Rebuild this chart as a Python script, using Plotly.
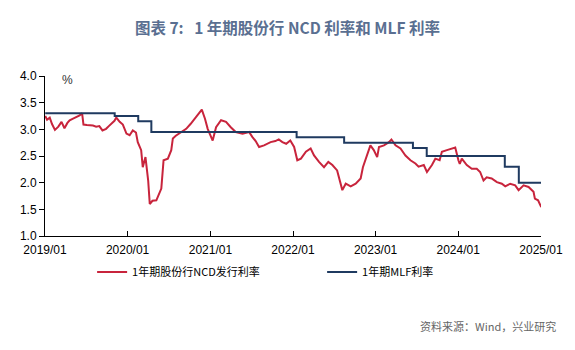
import plotly.graph_objects as go

ncd_dates = [
    "2019-01-02", "2019-01-10", "2019-01-22", "2019-02-01", "2019-02-14", "2019-03-01",
    "2019-03-15", "2019-03-28", "2019-04-10", "2019-04-20", "2019-05-05", "2019-05-20",
    "2019-06-03", "2019-06-14", "2019-06-20", "2019-07-05", "2019-07-16", "2019-08-01",
    "2019-08-15", "2019-08-29", "2019-09-12", "2019-09-28", "2019-10-10", "2019-10-21",
    "2019-11-04", "2019-11-12", "2019-11-27", "2019-12-11", "2019-12-27", "2020-01-10",
    "2020-01-24", "2020-02-07", "2020-02-15", "2020-03-01", "2020-03-08", "2020-03-20",
    "2020-04-01", "2020-04-08", "2020-04-20", "2020-05-07", "2020-05-29", "2020-06-08",
    "2020-06-27", "2020-07-12", "2020-07-19", "2020-08-01", "2020-08-17", "2020-09-01",
    "2020-09-16", "2020-10-05", "2020-10-23", "2020-11-05", "2020-11-14", "2020-11-24",
    "2020-12-08", "2020-12-20", "2021-01-11", "2021-01-26", "2021-02-17", "2021-03-11",
    "2021-04-01", "2021-04-23", "2021-05-23", "2021-06-21", "2021-07-05", "2021-07-20",
    "2021-08-04", "2021-08-26", "2021-09-24", "2021-10-15", "2021-10-30", "2021-11-15",
    "2021-12-02", "2021-12-20", "2022-01-06", "2022-01-20", "2022-02-05", "2022-02-27",
    "2022-03-20", "2022-04-04", "2022-04-26", "2022-05-18", "2022-06-06", "2022-06-24",
    "2022-07-15", "2022-07-26", "2022-08-07", "2022-08-22", "2022-09-13", "2022-10-05",
    "2022-10-27", "2022-11-06", "2022-11-20", "2022-12-09", "2022-12-24", "2023-01-08",
    "2023-01-16", "2023-02-07", "2023-03-01", "2023-03-12", "2023-03-30", "2023-04-21",
    "2023-05-13", "2023-06-04", "2023-06-26", "2023-07-10", "2023-08-02", "2023-08-16",
    "2023-09-07", "2023-09-22", "2023-10-11", "2023-10-21", "2023-11-12", "2023-12-04",
    "2023-12-19", "2024-01-02", "2024-01-08", "2024-01-17", "2024-02-08", "2024-03-01",
    "2024-03-23", "2024-04-07", "2024-04-22", "2024-05-06", "2024-05-28", "2024-06-20",
    "2024-07-12", "2024-07-27", "2024-08-18", "2024-09-09", "2024-09-24", "2024-10-16",
    "2024-11-07", "2024-11-29", "2024-12-05", "2024-12-19", "2025-01-02",
]
ncd_values = [
    3.25, 3.18, 3.22, 3.10, 2.99, 3.05,
    3.14, 3.02, 3.12, 3.17, 3.20, 3.23,
    3.26, 3.30, 3.09, 3.08, 3.08, 3.07,
    3.05, 3.06, 2.98, 3.01, 3.06, 3.10,
    3.16, 3.22, 3.14, 3.09, 2.92, 2.89,
    2.98, 2.94, 2.76, 2.61, 2.29, 2.48,
    2.04, 1.60, 1.66, 1.67, 1.89, 2.42,
    2.45, 2.61, 2.83, 2.88, 2.92, 2.97,
    3.01, 3.10, 3.20, 3.25, 3.30, 3.37,
    3.20, 3.01, 2.79, 3.04, 3.17, 3.14,
    3.04, 2.95, 2.92, 2.95, 2.86, 2.78,
    2.67, 2.70, 2.76, 2.78, 2.81, 2.76,
    2.73, 2.79, 2.67, 2.42, 2.45, 2.58,
    2.64, 2.51, 2.39, 2.29, 2.39, 2.33,
    2.23, 2.04, 1.86, 1.98, 1.93, 1.98,
    2.08, 2.29, 2.45, 2.70, 2.61, 2.48,
    2.67, 2.70, 2.76, 2.81, 2.70, 2.64,
    2.51, 2.42, 2.36, 2.30, 2.33, 2.20,
    2.33, 2.45, 2.42, 2.58, 2.61, 2.64,
    2.66, 2.42, 2.35, 2.45, 2.33, 2.26,
    2.26, 2.20, 2.04, 2.10, 2.08, 2.01,
    1.98, 1.93, 1.98, 1.95, 1.86, 1.95,
    1.92, 1.83, 1.70, 1.67, 1.54,
]

mlf_dates = [
    "2019-01-02", "2019-11-05", "2020-02-17", "2020-04-15", "2022-01-17",
    "2022-08-15", "2023-06-15", "2023-08-15", "2024-07-25", "2024-09-25", "2025-01-02",
]
mlf_values = [3.30, 3.25, 3.15, 2.95, 2.85, 2.75, 2.65, 2.50, 2.30, 2.00, 2.00]

y_ticks = [1.0, 1.5, 2.0, 2.5, 3.0, 3.5, 4.0]
x_ticks = ["2019-01-01", "2020-01-01", "2021-01-01", "2022-01-01",
           "2023-01-01", "2024-01-01", "2025-01-01"]
x_tick_labels = ["2019/01", "2020/01", "2021/01", "2022/01", "2023/01", "2024/01", "2025/01"]

fig = go.Figure()
fig.add_trace(go.Scatter(
    x=ncd_dates, y=ncd_values, mode="lines", name="1年期股份行NCD发行利率",
    line=dict(color="#C8243C", width=2),
))
fig.add_trace(go.Scatter(
    x=mlf_dates, y=mlf_values, mode="lines", name="1年期MLF利率",
    line=dict(color="#1F3A60", width=2, shape="hv"),
))

fig.update_layout(
    width=575, height=350,
    margin=dict(l=45, r=32, t=76, b=114),
    paper_bgcolor="white", plot_bgcolor="white",
    font=dict(family="Liberation Sans, Noto Sans CJK SC", size=12, color="#000000"),
    title=dict(
        text="<b>图表 7:   1 年期股份行 NCD 利率和 MLF 利率</b>",
        x=0.5, xanchor="center", y=1 - 29 / 350, yanchor="middle",
        font=dict(family="Noto Sans CJK SC", size=15.5, color="#5A6F91"),
    ),
    showlegend=True,
    legend=dict(
        orientation="h", x=0.095, xanchor="left", y=-0.225, yanchor="middle",
        font=dict(family="Noto Sans CJK SC", size=11, color="#000000"),
        entrywidth=185, entrywidthmode="pixels",
        itemwidth=30, bgcolor="rgba(0,0,0,0)",
    ),
    xaxis=dict(
        type="date", range=["2019-01-01", "2025-01-01"],
        tickvals=x_ticks, ticktext=x_tick_labels,
        ticks="inside", ticklen=5, tickcolor="#000000",
        showline=True, linecolor="#000000", linewidth=1,
        showgrid=False, zeroline=False, ticklabelstandoff=3,
        tickfont=dict(family="Liberation Sans", size=12, color="#000000"),
    ),
    yaxis=dict(
        range=[1.0, 4.0], tickvals=y_ticks, tickformat=".1f",
        ticks="outside", ticklen=5, tickcolor="#000000",
        showline=True, linecolor="#000000", linewidth=1,
        showgrid=False, zeroline=False,
        tickfont=dict(family="Liberation Sans", size=12, color="#000000"),
    ),
    annotations=[
        dict(text="%", xref="paper", yref="paper", x=0.046, y=0.975,
             xanchor="center", yanchor="middle",
             showarrow=False, font=dict(family="Liberation Sans", size=12, color="#333333")),
        dict(text="资料来源：Wind，兴业研究", xref="paper", yref="paper",
             x=1.035, y=-(326 - 236) / 160, xanchor="right", yanchor="middle",
             showarrow=False, font=dict(family="Noto Sans CJK SC", size=11, color="#666666")),
    ],
)

fig.write_html("out.html")
